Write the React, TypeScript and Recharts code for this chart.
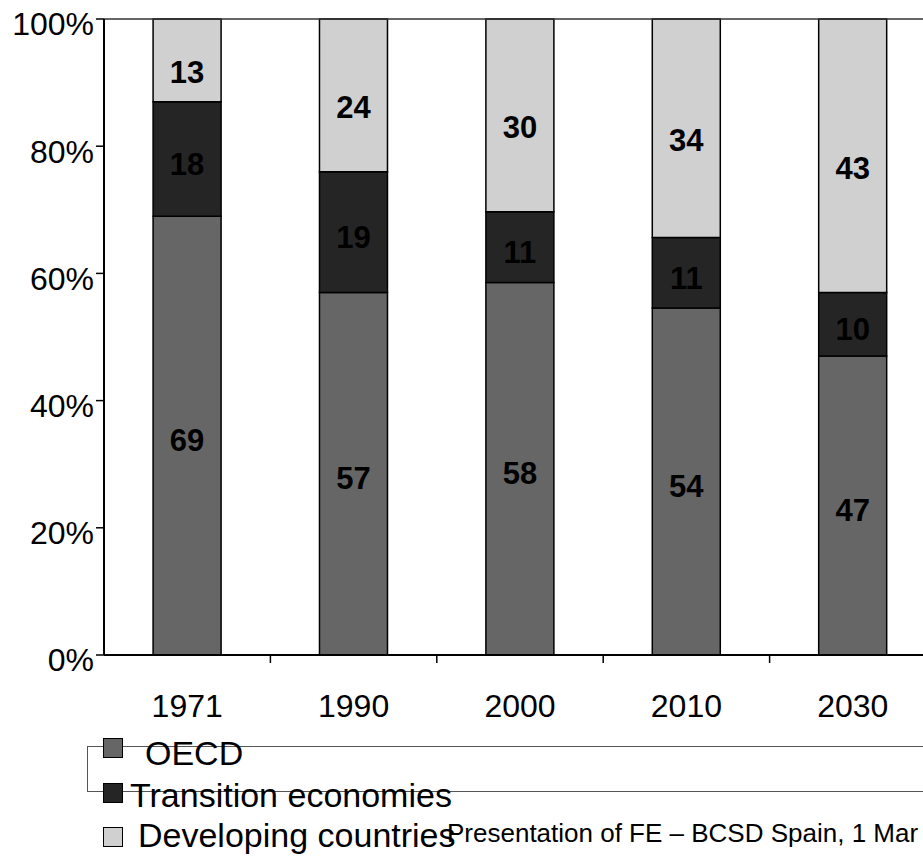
import React from 'react';
import { BarChart, Bar, XAxis, YAxis, LabelList, ReferenceLine } from 'recharts';

const years = ['1971', '1990', '2000', '2010', '2030'];
const oecd = [69, 57, 58, 54, 47];
const transition = [18, 19, 11, 11, 10];
const developing = [13, 24, 30, 34, 43];
const yTicks = [0, 0.2, 0.4, 0.6, 0.8, 1];
const seriesKeys = ['oecd', 'transition', 'developing'];
const seriesNames = ['OECD', 'Transition economies', 'Developing countries'];
const seriesColors = ['#666666', '#252525', '#d0d0d0'];
const footerText = 'Presentation of FE – BCSD Spain, 1 Mar';

const FONT = '"Liberation Sans", Arial, Helvetica, sans-serif';

const data = years.map((year, i) => ({
  year,
  oecd: oecd[i],
  transition: transition[i],
  developing: developing[i],
}));

const XTick = (props: any) => {
  const { x, y, payload } = props;
  const off = payload && typeof payload.offset === 'number' ? payload.offset : 0;
  return (
    <g>
      {off > 0 && (
        <line x1={x + off} x2={x + off} y1={y} y2={y + 8} stroke="#000" strokeWidth={1.5} />
      )}
      <text x={x} y={y + 62} textAnchor="middle" fontSize={32} fill="#000" fontFamily={FONT}>
        {payload.value}
      </text>
    </g>
  );
};

const labelDy = [4, 5, 12];

export default function App() {
  return (
    <div
      style={{
        position: 'absolute',
        left: 0,
        top: 0,
        width: 923,
        height: 857,
        overflow: 'hidden',
        background: '#fff',
        fontFamily: FONT,
      }}
    >
      <BarChart
        width={960}
        height={857}
        data={data}
        stackOffset="expand"
        margin={{ top: 19, right: 24, bottom: 142, left: 0 }}
        barCategoryGap="29.5%"
        style={{ fontFamily: FONT }}
      >
        <XAxis
          dataKey="year"
          tickLine={false}
          tickSize={0}
          tickMargin={0}
          tick={<XTick />}
          axisLine={{ stroke: '#000', strokeWidth: 2 }}
          height={60}
          interval={0}
        />
        <YAxis
          width={104}
          ticks={yTicks}
          domain={[0, 1]}
          interval={0}
          tickFormatter={(v: number) => `${Math.round(v * 100)}%`}
          tickSize={8}
          tickMargin={2}
          tick={{ fontSize: 32, fill: '#000', fontFamily: FONT, dy: 5 }}
          axisLine={{ stroke: '#000', strokeWidth: 2 }}
          tickLine={{ stroke: '#000', strokeWidth: 1.5 }}
        />
        <ReferenceLine y={1} stroke="#333" strokeWidth={1.5} />
        {seriesKeys.map((k, i) => (
          <Bar
            key={k}
            dataKey={k}
            name={seriesNames[i]}
            stackId="a"
            fill={seriesColors[i]}
            stroke="#000"
            strokeWidth={1.5}
            isAnimationActive={false}
          >
            <LabelList
              dataKey={k}
              position="center"
              fill="#000"
              fontSize={31}
              fontWeight="bold"
              fontFamily={FONT}
              dy={labelDy[i]}
            />
          </Bar>
        ))}
      </BarChart>

      {/* legend */}
      <div
        style={{
          position: 'absolute',
          left: 87,
          top: 746,
          width: 900,
          height: 46,
          border: '1px solid #555',
          boxSizing: 'border-box',
        }}
      />
      {seriesNames.map((name, i) => {
        const tops = [738, 783, 827];
        const textTops = [736, 778, 818];
        const textLeft = [145, 130, 138];
        return (
          <React.Fragment key={name}>
            <div
              style={{
                position: 'absolute',
                left: 103,
                top: tops[i],
                width: 20,
                height: 20,
                background: seriesColors[i],
                border: '1.5px solid #000',
                boxSizing: 'border-box',
              }}
            />
            <span
              style={{
                position: 'absolute',
                left: textLeft[i],
                top: textTops[i],
                fontSize: 34,
                lineHeight: '34px',
                color: '#000',
                whiteSpace: 'nowrap',
              }}
            >
              {name}
            </span>
          </React.Fragment>
        );
      })}
      <span
        style={{
          position: 'absolute',
          left: 447,
          top: 820,
          fontSize: 26,
          lineHeight: '26px',
          color: '#000',
          whiteSpace: 'nowrap',
        }}
      >
        {footerText}
      </span>
    </div>
  );
}
